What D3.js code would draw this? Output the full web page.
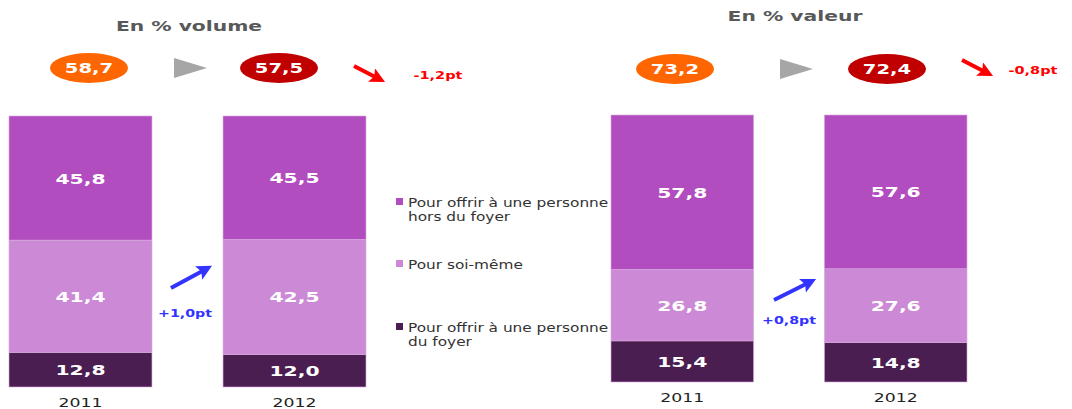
<!DOCTYPE html>
<html><head><meta charset="utf-8">
<script src="https://cdn.jsdelivr.net/npm/d3@7"></script>
<style>body{margin:0;background:#fff}svg{display:block;font-family:"DejaVu Sans",sans-serif}</style>
</head><body><svg id="c" width="1072" height="409"></svg>
<script>
const years = ["2011", "2012"];
const seriesNames = ["Pour offrir à une personne du foyer", "Pour soi-même", "Pour offrir à une personne hors du foyer"];
const legendLines = [["Pour offrir à une personne", "hors du foyer"], ["Pour soi-même"], ["Pour offrir à une personne", "du foyer"]];
const volFoyer = [12.8, 12.0];
const volSoi = [41.4, 42.5];
const volHors = [45.8, 45.5];
const valFoyer = [15.4, 14.8];
const valSoi = [26.8, 27.6];
const valHors = [57.8, 57.6];
const volTotals = [58.7, 57.5];
const valTotals = [73.2, 72.4];
const totalChanges = ["-1,2pt", "-0,8pt"];
const soiChanges = ["+1,0pt", "+0,8pt"];
const titles = ["En % volume", "En % valeur"];
const colors = ["#4b1e51", "#cc89d5", "#b24dbf"];

const svg = d3.select("#c");
const fmt = v => d3.format(".1f")(v).replace(".", ",");

// text placed with a horizontal stretch
function stext(parent, x, y, sx, txt) {
  return parent.append("text").attr("transform", `translate(${x},${y}) scale(${sx},1)`).text(txt);
}

const defs = svg.append("defs");
[["red","#ff0000"],["blue","#3333ff"]].forEach(([id,c]) => {
  defs.append("marker").attr("id","ah-"+id).attr("viewBox","0 0 10 10").attr("refX",7).attr("refY",5)
    .attr("markerWidth",3.8).attr("markerHeight",3.8).attr("orient","auto")
    .append("path").attr("d","M0,0 L10,5 L0,10 L2,5 Z").attr("fill",c);
});

const panels = [
  {vals:[volFoyer, volSoi, volHors], totals: volTotals, change: totalChanges[0], soi: soiChanges[0], title: titles[0],
   x0: 9, x1: 366, yTop: 116, yBot: 387, titleX: 189, titleY: 31, ellY: 68, ell: [89, 279], tri: [174, 207],
   red: [[354,66],[381,80]], redT: [438, 79], blue: [[171,288],[208,268]], blueT: [185, 317], yearY: 407},
  {vals:[valFoyer, valSoi, valHors], totals: valTotals, change: totalChanges[1], soi: soiChanges[1], title: titles[1],
   x0: 611, x1: 967, yTop: 115, yBot: 382, titleX: 795, titleY: 21, ellY: 69, ell: [675, 887], tri: [780, 813],
   red: [[962,60],[989,74]], redT: [1033, 74], blue: [[774,300],[812,281]], blueT: [789, 324], yearY: 402}
];

panels.forEach(p => {
  const g = svg.append("g");
  const x = d3.scaleBand().domain(years).range([p.x0, p.x1]).paddingInner(0.332).paddingOuter(0);
  const y = d3.scaleLinear().domain([0, 100]).range([p.yBot, p.yTop]);
  const rows = years.map((yr, i) => { const o = {year: yr}; seriesNames.forEach((s, k) => o[s] = p.vals[k][i]); return o; });
  const stacked = d3.stack().keys(seriesNames)(rows);
  stacked.forEach((layer, k) => {
    const lg = g.append("g");
    lg.selectAll("rect").data(layer).join("rect")
      .attr("x", d => x(d.data.year)).attr("width", x.bandwidth())
      .attr("y", d => y(d[1])).attr("height", d => y(d[0]) - y(d[1]))
      .attr("fill", colors[k]).attr("stroke", "#d9a9df").attr("stroke-width", 0.6);
    layer.forEach(d => {
      stext(lg, x(d.data.year) + x.bandwidth() / 2, (y(d[0]) + y(d[1])) / 2 + 5.5, 1.45, fmt(d[1] - d[0]))
        .attr("text-anchor", "middle").attr("fill", "#fff").attr("font-weight", "bold").attr("font-size", 14);
    });
  });
  // year labels
  years.forEach(yr => {
    stext(g, x(yr) + x.bandwidth() / 2, p.yearY, 1.33, yr)
      .attr("text-anchor", "middle").attr("font-size", 13).attr("fill", "#222");
  });
  // title
  stext(g, p.titleX, p.titleY, 1.45, p.title).attr("text-anchor", "middle")
    .attr("font-size", 14).attr("font-weight", "bold").attr("fill", "#595959");
  // ellipses
  const ec = ["#ff6600", "#c00000"];
  p.totals.forEach((t, i) => {
    g.append("ellipse").attr("cx", p.ell[i]).attr("cy", p.ellY).attr("rx", 39).attr("ry", 15).attr("fill", ec[i]);
    stext(g, p.ell[i], p.ellY + 5, 1.35, fmt(t)).attr("text-anchor", "middle")
      .attr("fill", "#fff").attr("font-weight", "bold").attr("font-size", 14.5);
  });
  // grey triangle
  g.append("path").attr("d", `M${p.tri[0]},${p.ellY - 10} L${p.tri[1]},${p.ellY} L${p.tri[0]},${p.ellY + 10} Z`).attr("fill", "#a6a6a6");
  // red arrow
  g.append("line").attr("x1", p.red[0][0]).attr("y1", p.red[0][1]).attr("x2", p.red[1][0]).attr("y2", p.red[1][1])
    .attr("stroke", "#ff0000").attr("stroke-width", 4).attr("marker-end", "url(#ah-red)");
  stext(g, p.redT[0], p.redT[1], 1.38, p.change).attr("text-anchor", "middle").attr("fill", "#ff0000")
    .attr("font-weight", "bold").attr("font-size", 10.5);
  // blue arrow
  g.append("line").attr("x1", p.blue[0][0]).attr("y1", p.blue[0][1]).attr("x2", p.blue[1][0]).attr("y2", p.blue[1][1])
    .attr("stroke", "#3333ff").attr("stroke-width", 4).attr("marker-end", "url(#ah-blue)");
  stext(g, p.blueT[0], p.blueT[1], 1.42, p.soi).attr("text-anchor", "middle").attr("fill", "#3333ff")
    .attr("font-weight", "bold").attr("font-size", 10);
});

// legend
const legendY = [202, 264, 327];
const legendColors = [colors[2], colors[1], colors[0]];
const lg = svg.append("g");
legendLines.forEach((lines, i) => {
  lg.append("rect").attr("x", 396).attr("y", legendY[i] - 4).attr("width", 7).attr("height", 7).attr("fill", legendColors[i]);
  lines.forEach((l, j) => {
    stext(lg, 408, legendY[i] + 4.5 + j * 14, 1.18, l).attr("font-size", 13).attr("fill", "#333");
  });
});
</script></body></html>
